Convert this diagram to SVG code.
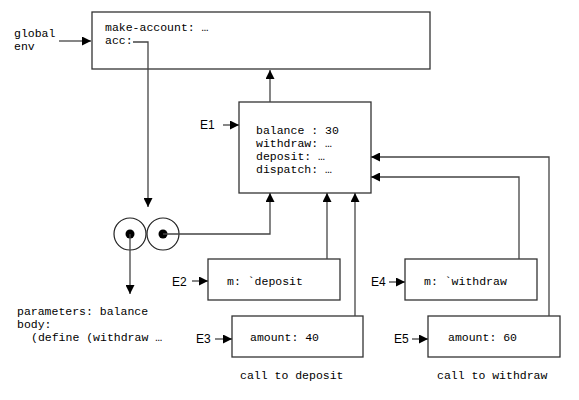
<svg xmlns="http://www.w3.org/2000/svg" width="579" height="400" viewBox="0 0 579 400">
<style>
.box{fill:#fff;stroke:#333;stroke-width:1.3}
.ln{fill:none;stroke:#444;stroke-width:1.3}
.m{font-family:"Liberation Mono",monospace;font-size:11.5px;fill:#000}
.s{font-family:"Liberation Sans",sans-serif;font-size:12px;fill:#000}
</style>
<defs>
<marker id="ah" viewBox="0 0 10 10" refX="10" refY="5" markerWidth="9" markerHeight="9" markerUnits="userSpaceOnUse" orient="auto">
<path d="M0,0 L10,5 L0,10 z" fill="#000"/>
</marker>
</defs>
<g id="global">
<rect class="box" x="92" y="12" width="338" height="57"/>
<text class="m" x="105" y="31">make-account: …</text>
<text class="m" x="105" y="44">acc:</text>
</g>
<g id="global-label">
<text class="m" x="14" y="37">global</text>
<text class="m" x="14" y="50">env</text>
</g>
<g id="E1">
<rect class="box" x="239" y="102" width="132" height="91"/>
<text class="m" x="256" y="134">balance : 30</text>
<text class="m" x="256" y="147">withdraw: …</text>
<text class="m" x="256" y="160">deposit: …</text>
<text class="m" x="256" y="173">dispatch: …</text>
<text class="s" x="200" y="129">E1</text>
</g>
<g id="procedure">
<circle cx="130" cy="234" r="16" fill="#fff" stroke="#222" stroke-width="1.2"/>
<circle cx="163" cy="234" r="16" fill="#fff" stroke="#222" stroke-width="1.2"/>
<circle cx="130" cy="234" r="4.5" fill="#000"/>
<circle cx="163" cy="234" r="4.5" fill="#000"/>
<text class="m" x="17" y="315">parameters: balance</text>
<text class="m" x="17" y="328">body:</text>
<text class="m" x="31" y="341">(define (withdraw …</text>
</g>
<g id="E2">
<rect class="box" x="208" y="259" width="132" height="41"/>
<text class="m" x="227" y="285">m: `deposit</text>
<text class="s" x="172" y="286">E2</text>
</g>
<g id="E3">
<rect class="box" x="232" y="316" width="131" height="41"/>
<text class="m" x="250" y="341">amount: 40</text>
<text class="s" x="196" y="343">E3</text>
<text class="m" x="240" y="379">call to deposit</text>
</g>
<g id="E4">
<rect class="box" x="405" y="259" width="132" height="41"/>
<text class="m" x="424" y="285">m: `withdraw</text>
<text class="s" x="371" y="286">E4</text>
</g>
<g id="E5">
<rect class="box" x="428" y="316" width="132" height="41"/>
<text class="m" x="448" y="341">amount: 60</text>
<text class="s" x="394" y="343">E5</text>
<text class="m" x="437" y="379">call to withdraw</text>
</g>
<g id="connectors">
<line class="ln" x1="59" y1="41" x2="91" y2="41" marker-end="url(#ah)"/>
<polyline class="ln" points="133,42 148,42 148,207" marker-end="url(#ah)"/>
<line class="ln" x1="270" y1="102" x2="270" y2="70" marker-end="url(#ah)"/>
<line class="ln" x1="223" y1="125" x2="239" y2="125" marker-end="url(#ah)"/>
<polyline class="ln" points="163,234 270,234 270,193" marker-end="url(#ah)"/>
<line class="ln" x1="130" y1="234" x2="130" y2="294" marker-end="url(#ah)"/>
<line class="ln" x1="192" y1="281" x2="208" y2="281" marker-end="url(#ah)"/>
<line class="ln" x1="215" y1="339" x2="232" y2="339" marker-end="url(#ah)"/>
<line class="ln" x1="389" y1="282" x2="405" y2="282" marker-end="url(#ah)"/>
<line class="ln" x1="412" y1="339" x2="428" y2="339" marker-end="url(#ah)"/>
<line class="ln" x1="327" y1="259" x2="327" y2="193" marker-end="url(#ah)"/>
<line class="ln" x1="355" y1="316" x2="355" y2="193" marker-end="url(#ah)"/>
<polyline class="ln" points="519,259 519,177 371,177" marker-end="url(#ah)"/>
<polyline class="ln" points="549,316 549,157 371,157" marker-end="url(#ah)"/>
</g>
</svg>
